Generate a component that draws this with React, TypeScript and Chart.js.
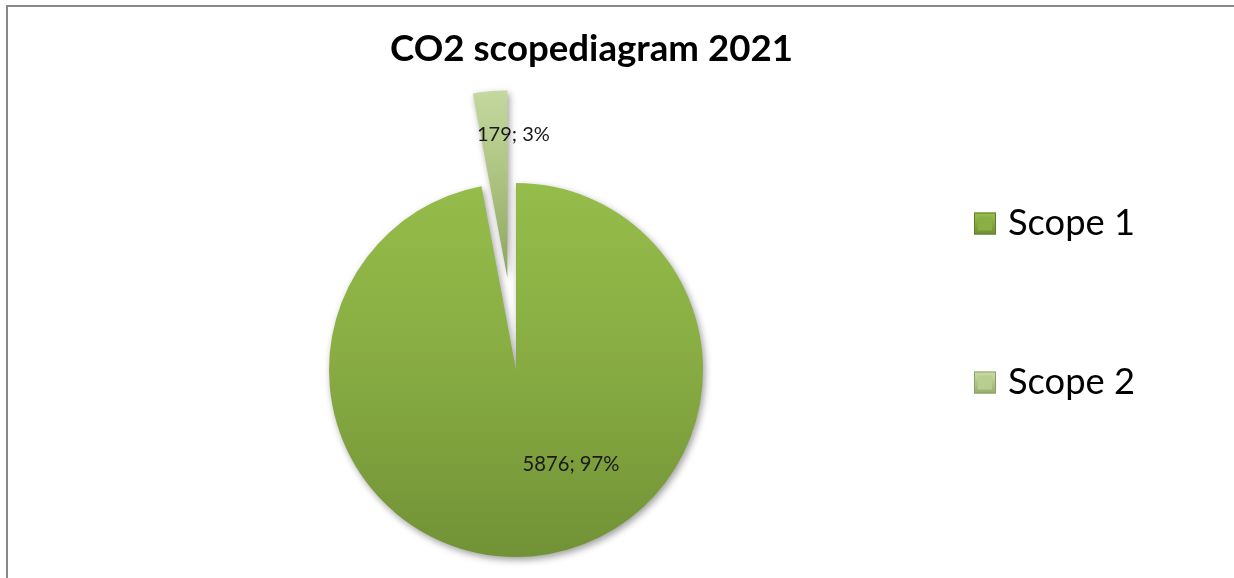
import React, { useEffect, useRef } from "react";
import { Chart, registerables } from "chart.js";

Chart.register(...registerables);

// ---- data ----
const chartTitle = "CO2 scopediagram 2021";
const categories = ["Scope 1", "Scope 2"];
const emissions = [5876, 179];

// ---- style ----
const W = 1234;
const H = 578;
const PIE_RADIUS = 187;
const EXPLODE = [0, 93];
const FONT = "Lato, 'Open Sans', sans-serif";
const SLICE_STOPS: [number, string][][] = [
  [
    [0, "#95bd4a"],
    [0.5, "#87ab42"],
    [1, "#719236"],
  ],
  [
    [0, "#c4d89f"],
    [0.25, "#aac27e"],
    [0.5, "#8ea45f"],
    [1, "#7a8f50"],
  ],
];
const LEGEND_TOP = ["#98c04c", "#cbdea9"];
const LEGEND_BOTTOM = ["#6f9034", "#98ae6c"];
const LEGEND_FILL = ["#8ab045", "#b8ce90"];
const LEGEND_EDGE = ["#5f7d2c", "#8aa063"];
// label anchor (center x, baseline y) relative to each slice apex
const LABEL_SHIFT = [
  [55, 101],
  [6, -136],
];

function sliceMid(values: number[], i: number) {
  const total = values.reduce((a, b) => a + b, 0);
  let start = 0;
  for (let j = 0; j < i; j++) start += values[j];
  return -Math.PI / 2 + (2 * Math.PI * (start + values[i] / 2)) / total;
}

function fitFont(ctx: CanvasRenderingContext2D, text: string, weight: string, target: number) {
  ctx.font = `${weight} 40px ${FONT}`;
  const w = ctx.measureText(text).width;
  const size = (40 * target) / w;
  return `${weight} ${size.toFixed(2)}px ${FONT}`;
}

const decorPlugin = {
  id: "decor",
  beforeDraw(chart: any) {
    const ctx = chart.ctx;
    ctx.save();
    ctx.fillStyle = "#ffffff";
    ctx.fillRect(0, 0, W, H);
    ctx.fillStyle = "#898989";
    ctx.fillRect(6, 5, W - 6, 2);
    ctx.fillRect(6, 5, 2, H - 5);
    ctx.restore();
  },
  afterDatasetsUpdate(chart: any) {
    const meta = chart.getDatasetMeta(0);
    meta.data.forEach((arc: any, i: number) => {
      const d = EXPLODE[i] || 0;
      if (!d) return;
      const mid = (arc.startAngle + arc.endAngle) / 2;
      arc.x += Math.cos(mid) * d;
      arc.y += Math.sin(mid) * d;
    });
  },
  beforeDatasetsDraw(chart: any) {
    const ctx = chart.ctx;
    ctx.save();
    ctx.shadowColor = "rgba(0,0,0,0.38)";
    ctx.shadowBlur = 7;
    ctx.shadowOffsetX = 2;
    ctx.shadowOffsetY = 3;
  },
  afterDatasetsDraw(chart: any) {
    chart.ctx.restore();
  },
  afterDraw(chart: any) {
    const ctx = chart.ctx;
    const values: number[] = chart.data.datasets[0].data;
    const labels: string[] = chart.data.labels;
    const total = values.reduce((a, b) => a + b, 0);
    const meta = chart.getDatasetMeta(0);
    ctx.save();
    // data labels
    ctx.fillStyle = "#1a1a1a";
    ctx.textAlign = "center";
    ctx.textBaseline = "alphabetic";
    meta.data.forEach((arc: any, i: number) => {
      const txt = `${values[i]}; ${Math.round((values[i] / total) * 100)}%`;
      ctx.font = fitFont(ctx, txt, "normal", txt.length === 9 ? 97 : 73);
      ctx.fillText(txt, arc.x + LABEL_SHIFT[i][0], arc.y + LABEL_SHIFT[i][1]);
    });
    // title
    ctx.fillStyle = "#000000";
    ctx.font = fitFont(ctx, chartTitle, "bold", 403);
    ctx.fillText(chartTitle, 591.5, 61);
    // legend
    const rows = [223.5, 382.5];
    labels.forEach((lab, i) => {
      const cy = rows[i];
      const x0 = 974, s = 22, y0 = cy - s / 2;
      const g = ctx.createLinearGradient(x0, y0, x0, y0 + s);
      g.addColorStop(0, LEGEND_TOP[i]);
      g.addColorStop(1, LEGEND_BOTTOM[i]);
      ctx.fillStyle = g;
      ctx.fillRect(x0, y0, s, s);
      ctx.fillStyle = LEGEND_FILL[i];
      ctx.fillRect(x0 + 4, y0 + 4, s - 8, s - 8);
      ctx.strokeStyle = LEGEND_EDGE[i];
      ctx.lineWidth = 1;
      ctx.strokeRect(x0 + 0.5, y0 + 0.5, s - 1, s - 1);
      ctx.fillStyle = "#000000";
      ctx.textAlign = "left";
      ctx.font = fitFont(ctx, lab, "normal", 127);
      ctx.fillText(lab, 1008, cy + 11.5);
    });
    ctx.restore();
  },
};

export default function App() {
  const ref = useRef<HTMLCanvasElement | null>(null);

  useEffect(() => {
    if (!ref.current) return;
    const chart = new Chart(ref.current, {
      type: "pie",
      data: {
        labels: categories,
        datasets: [
          {
            data: emissions,
            borderWidth: 0,
            backgroundColor: (c: any) => {
              const chart = c.chart;
              const area = chart.chartArea;
              const i = c.dataIndex ?? 0;
              if (!area) return SLICE_STOPS[i][1][1];
              const cy = (area.top + area.bottom) / 2;
              const vals = chart.data.datasets[0].data as number[];
              const dy = Math.sin(sliceMid(vals, i)) * (EXPLODE[i] || 0);
              const g = chart.ctx.createLinearGradient(0, cy + dy - PIE_RADIUS, 0, cy + dy + PIE_RADIUS);
              SLICE_STOPS[i].forEach(([p, col]) => g.addColorStop(p, col));
              return g;
            },
          },
        ],
      },
      options: {
        responsive: false,
        animation: false,
        radius: PIE_RADIUS,
        layout: { padding: { left: 0, right: 202, top: 162, bottom: 0 } },
        plugins: {
          legend: { display: false },
          title: { display: false },
          tooltip: { enabled: false },
        },
        events: [],
      } as any,
      plugins: [decorPlugin],
    });
    return () => chart.destroy();
  }, []);

  return (
    <div style={{ position: "absolute", left: 0, top: 0, width: W, height: H }}>
      <canvas ref={ref} width={W} height={H} style={{ display: "block" }} />
    </div>
  );
}
